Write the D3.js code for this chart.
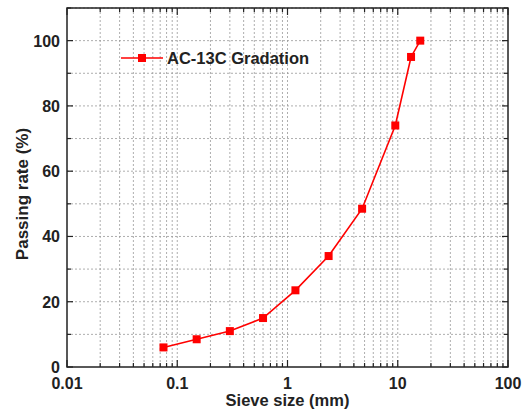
<!DOCTYPE html>
<html>
<head>
<meta charset="utf-8">
<script src="https://cdn.jsdelivr.net/npm/d3@7"></script>
<style>
  body { margin: 0; background: #fff; }
  text { font-family: "Liberation Sans", Arial, sans-serif; font-weight: bold; fill: #222; }
</style>
</head>
<body>
<svg id="chart" width="523" height="415"></svg>
<script>
// data
const sieveSizes = [0.075, 0.15, 0.3, 0.6, 1.18, 2.36, 4.75, 9.5, 13.2, 16];
const passing = [6, 8.5, 11, 15, 23.5, 34, 48.5, 74, 95, 100];
const xTickLabels = ["0.01", "0.1", "1", "10", "100"];
const yTicks = [0, 20, 40, 60, 80, 100];
const seriesName = "AC-13C Gradation";

const width = 523, height = 415;
const margin = { left: 67, top: 8, right: 15, bottom: 48 };
const innerW = width - margin.left - margin.right;
const innerH = height - margin.top - margin.bottom;

const svg = d3.select("#chart");
const g = svg.append("g").attr("transform", `translate(${margin.left},${margin.top})`);

const x = d3.scaleLog().domain([0.01, 100]).range([0, innerW]);
const y = d3.scaleLinear().domain([0, 110]).range([innerH, 0]);

// log minor ticks
const xAll = [];
for (let e = -2; e < 2; e++) {
  for (let k = 1; k <= 9; k++) xAll.push(k * Math.pow(10, e));
}
xAll.push(100);
const xMajor = xAll.filter(v => Math.abs(Math.log10(v) - Math.round(Math.log10(v))) < 1e-9);
const yAll = d3.range(0, 111, 10);

// grid
g.selectAll(".vgrid").data(xAll.slice(1, -1)).enter().append("line")
  .attr("x1", d => x(d)).attr("x2", d => x(d))
  .attr("y1", 0).attr("y2", innerH)
  .attr("stroke", "#999").attr("stroke-width", 0.8).attr("stroke-dasharray", "2,2");
g.selectAll(".hgrid").data(yAll.slice(1)).enter().append("line")
  .attr("x1", 0).attr("x2", innerW)
  .attr("y1", d => y(d)).attr("y2", d => y(d))
  .attr("stroke", "#999").attr("stroke-width", 0.8).attr("stroke-dasharray", "2,2");

// ticks (inward on all sides)
function tickLen(v) { return xMajor.includes(v) ? 7 : 4; }
g.selectAll(".tb").data(xAll).enter().append("line")
  .attr("x1", d => x(d)).attr("x2", d => x(d))
  .attr("y1", innerH).attr("y2", d => innerH - tickLen(d))
  .attr("stroke", "#222").attr("stroke-width", 1.2);
g.selectAll(".tt").data(xAll).enter().append("line")
  .attr("x1", d => x(d)).attr("x2", d => x(d))
  .attr("y1", 0).attr("y2", d => tickLen(d))
  .attr("stroke", "#222").attr("stroke-width", 1.2);
g.selectAll(".tl").data(yAll).enter().append("line")
  .attr("x1", 0).attr("x2", d => d % 20 === 0 ? 6 : 4)
  .attr("y1", d => y(d)).attr("y2", d => y(d))
  .attr("stroke", "#222").attr("stroke-width", 1.2);
g.selectAll(".tr").data(yAll).enter().append("line")
  .attr("x1", innerW).attr("x2", d => innerW - (d % 20 === 0 ? 6 : 4))
  .attr("y1", d => y(d)).attr("y2", d => y(d))
  .attr("stroke", "#222").attr("stroke-width", 1.2);

// frame
g.append("rect").attr("width", innerW).attr("height", innerH)
  .attr("fill", "none").attr("stroke", "#222").attr("stroke-width", 1.5);

// tick labels
g.selectAll(".xl").data(xMajor).enter().append("text")
  .attr("x", d => x(d)).attr("y", innerH + 22)
  .attr("text-anchor", "middle").attr("font-size", 16)
  .text((d, i) => xTickLabels[i]);
g.selectAll(".yl").data(yTicks).enter().append("text")
  .attr("x", -7).attr("y", d => y(d) + 6)
  .attr("text-anchor", "end").attr("font-size", 16)
  .text(d => d);

// axis titles
g.append("text").attr("x", x(1)).attr("y", innerH + 39)
  .attr("text-anchor", "middle").attr("font-size", 16.5)
  .text("Sieve size  (mm)");
svg.append("text")
  .attr("transform", `translate(28,${margin.top + y(53)}) rotate(-90)`)
  .attr("text-anchor", "middle").attr("font-size", 17)
  .text("Passing rate (%)");

// series
const pts = sieveSizes.map((s, i) => [s, passing[i]]);
g.append("path").datum(pts)
  .attr("fill", "none").attr("stroke", "#ff0000").attr("stroke-width", 1.6)
  .attr("d", d3.line().x(d => x(d[0])).y(d => y(d[1])));
g.selectAll(".pt").data(pts).enter().append("rect")
  .attr("x", d => x(d[0]) - 4).attr("y", d => y(d[1]) - 4)
  .attr("width", 8).attr("height", 8).attr("fill", "#ff0000");

// legend
const lg = svg.append("g").attr("transform", "translate(121,58)");
lg.append("line").attr("x1", 0).attr("x2", 42).attr("stroke", "#ff0000").attr("stroke-width", 1.6);
lg.append("rect").attr("x", 17).attr("y", -4).attr("width", 8).attr("height", 8).attr("fill", "#ff0000");
lg.append("text").attr("x", 46).attr("y", 6).attr("font-size", 16.5).text(seriesName);
</script>
</body>
</html>
